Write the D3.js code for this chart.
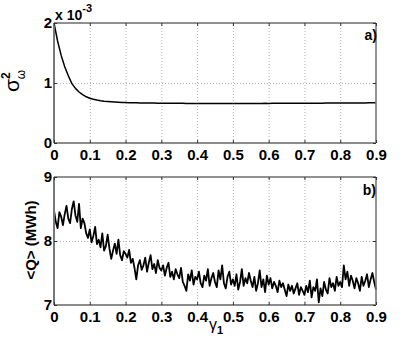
<!DOCTYPE html>
<html>
<head>
<meta charset="utf-8">
<script src="https://cdn.jsdelivr.net/npm/d3@7"></script>
<style>
  html, body { margin: 0; padding: 0; background: #fff; }
  svg { display: block; font-family: "Liberation Sans", Arial, sans-serif; font-weight: bold; }
  .tick text { font-size: 15px; font-weight: bold; fill: #000; }
  .tick line { stroke: #333; }
  .grid .tick line { stroke: #b0b0b0; stroke-dasharray: 1,2; }
  .grid .domain { display: none; }
  .noline .domain { display: none; }
  .series { fill: none; stroke: #000; stroke-linejoin: round; }
</style>
</head>
<body>
<div id="chart"></div>
<script>
// Zwei Panels: a) Varianz sigma^2_omega, b) mittlere Energie <Q> gegen gamma_1

const X_TICKS = [0, 0.1, 0.2, 0.3, 0.4, 0.5, 0.6, 0.7, 0.8, 0.9];
const A_TICKS = [0, 1, 2];
const B_TICKS = [7, 8, 9];

// Panel a): Werte in Einheiten von 1e-3, Schritt 0.01
const A_STEP = 0.01;
const A_VALUES = [
  2.00, 1.70, 1.46, 1.27, 1.12, 0.99, 0.91, 0.85, 0.805, 0.77,
  0.745, 0.728, 0.715, 0.705, 0.697, 0.691, 0.686, 0.682, 0.679, 0.676,
  0.674, 0.672, 0.670, 0.669, 0.668, 0.667, 0.666, 0.665, 0.665, 0.664,
  0.663, 0.663, 0.662, 0.662, 0.661, 0.661, 0.661, 0.660, 0.660, 0.660,
  0.660, 0.659, 0.660, 0.659, 0.659, 0.660, 0.659, 0.659, 0.660, 0.659,
  0.659, 0.660, 0.659, 0.660, 0.660, 0.659, 0.660, 0.660, 0.660, 0.661,
  0.660, 0.661, 0.661, 0.661, 0.662, 0.661, 0.662, 0.662, 0.663, 0.662,
  0.663, 0.663, 0.664, 0.663, 0.664, 0.664, 0.665, 0.665, 0.665, 0.666,
  0.666, 0.666, 0.667, 0.667, 0.667, 0.668, 0.668, 0.668, 0.669, 0.669,
  0.669
];

// Panel b): <Q> in MWh, Schritt 0.005
const B_STEP = 0.005;
const B_VALUES = [
  8.48, 8.30, 8.20, 8.45, 8.38, 8.25, 8.42, 8.55, 8.35, 8.28,
  8.50, 8.62, 8.40, 8.30, 8.58, 8.20, 8.35, 8.28, 8.12, 8.05,
  8.18, 7.98, 8.08, 8.22, 7.95, 8.02, 7.90, 8.12, 7.85, 7.92,
  8.10, 7.88, 7.72, 7.85, 7.96, 7.80, 8.02, 7.78, 7.70, 7.84,
  7.80, 7.74, 7.86, 7.66, 7.72, 7.58, 7.40, 7.62, 7.70, 7.55,
  7.62, 7.74, 7.52, 7.66, 7.78, 7.56, 7.64, 7.50, 7.70, 7.58,
  7.54, 7.62, 7.46, 7.58, 7.66, 7.44, 7.52, 7.40, 7.56, 7.48,
  7.42, 7.58, 7.36, 7.30, 7.22, 7.48, 7.38, 7.54, 7.32, 7.44,
  7.40, 7.52, 7.34, 7.28, 7.46, 7.38, 7.56, 7.30, 7.42, 7.50,
  7.36, 7.28, 7.54, 7.40, 7.62, 7.34, 7.26, 7.44, 7.52, 7.32,
  7.40, 7.30, 7.48, 7.24, 7.36, 7.56, 7.30, 7.42, 7.34, 7.50,
  7.38, 7.28, 7.44, 7.22, 7.34, 7.54, 7.28, 7.40, 7.20, 7.46,
  7.32, 7.42, 7.26, 7.36, 7.30, 7.20, 7.38, 7.28, 7.34, 7.24,
  7.14, 7.32, 7.22, 7.30, 7.18, 7.26, 7.34, 7.16, 7.28, 7.22,
  7.16, 7.30, 7.20, 7.38, 7.12, 7.28, 7.22, 7.40, 7.04, 7.26,
  7.14, 7.36, 7.24, 7.18, 7.42, 7.28, 7.34, 7.22, 7.44, 7.30,
  7.36, 7.28, 7.62, 7.40, 7.52, 7.30, 7.46, 7.38, 7.26, 7.42,
  7.34, 7.22, 7.44, 7.30, 7.38, 7.48, 7.28, 7.40, 7.50, 7.36,
  7.24
];

const W = 415, H = 343;
const LEFT = 54, RIGHT = 376;
const panelA = { top: 23, bottom: 143 };
const panelB = { top: 177, bottom: 305 };

const svg = d3.select("#chart").append("svg")
  .attr("width", W)
  .attr("height", H)
  .attr("viewBox", `0 0 ${W} ${H}`);

const x = d3.scaleLinear().domain([0, 0.9]).range([LEFT, RIGHT]);

function drawPanel(p, yDomain, yTicks, values, step, lineW) {
  const y = d3.scaleLinear().domain(yDomain).range([p.bottom, p.top]);
  const innerH = p.bottom - p.top;
  const innerW = RIGHT - LEFT;

  // Gitter
  svg.append("g").attr("class", "grid")
    .attr("transform", `translate(0,${p.bottom})`)
    .call(d3.axisBottom(x).tickValues(X_TICKS.slice(1, -1)).tickSize(-innerH).tickFormat(""));
  svg.append("g").attr("class", "grid")
    .attr("transform", `translate(${LEFT},0)`)
    .call(d3.axisLeft(y).tickValues(yTicks.slice(1, -1)).tickSize(-innerW).tickFormat(""));

  // Kurve
  const line = d3.line()
    .x((_, i) => x(i * step))
    .y(d => y(d));
  svg.append("path")
    .datum(values)
    .attr("class", "series")
    .attr("stroke-width", lineW)
    .attr("d", line);

  // Rahmen
  svg.append("line").attr("x1", LEFT).attr("x2", RIGHT).attr("y1", p.top).attr("y2", p.top)
    .attr("stroke", "#222").attr("stroke-width", 1);
  svg.append("line").attr("x1", LEFT).attr("x2", RIGHT).attr("y1", p.bottom).attr("y2", p.bottom)
    .attr("stroke", "#666").attr("stroke-width", 1.6);
  svg.append("line").attr("x1", LEFT).attr("x2", LEFT).attr("y1", p.top).attr("y2", p.bottom)
    .attr("stroke", "#777").attr("stroke-width", 2);
  svg.append("line").attr("x1", RIGHT).attr("x2", RIGHT).attr("y1", p.top).attr("y2", p.bottom)
    .attr("stroke", "#777").attr("stroke-width", 1.6);

  // Achsen (Ticks nach innen)
  svg.append("g").attr("class", "noline")
    .attr("transform", `translate(0,${p.bottom})`)
    .call(d3.axisBottom(x).tickValues(X_TICKS).tickSize(-3).tickPadding(6).tickFormat(d => d === 0 ? "0" : d3.format(".1f")(d)));
  svg.append("g").attr("class", "noline")
    .attr("transform", `translate(0,${p.top})`)
    .call(d3.axisTop(x).tickValues(X_TICKS).tickSize(-3).tickFormat(""));
  svg.append("g").attr("class", "noline")
    .attr("transform", `translate(${LEFT},0)`)
    .call(d3.axisLeft(y).tickValues(yTicks).tickSize(-3).tickPadding(2).tickFormat(d3.format("d")));
  svg.append("g").attr("class", "noline")
    .attr("transform", `translate(${RIGHT},0)`)
    .call(d3.axisRight(y).tickValues(yTicks).tickSize(-3).tickFormat(""));

  return y;
}

drawPanel(panelA, [0, 2], A_TICKS, A_VALUES, A_STEP, 1.5);
drawPanel(panelB, [7, 9], B_TICKS, B_VALUES, B_STEP, 1.8);

// Exponent-Faktor
const expo = svg.append("text").attr("x", 55).attr("y", 20).attr("font-size", 14);
expo.append("tspan").text("x 10");
expo.append("tspan").attr("dy", -8).attr("font-size", 11).text("-3");

// Panel-Labels
svg.append("text").attr("x", 377).attr("y", 40).attr("text-anchor", "end").attr("font-size", 14).text("a)");
svg.append("text").attr("x", 376).attr("y", 195).attr("text-anchor", "end").attr("font-size", 14).text("b)");

// Y-Labels
const ya = svg.append("text")
  .attr("transform", "translate(19,92) rotate(-90)")
  .attr("font-size", 21).attr("font-weight", "normal");
ya.append("tspan").text("\u03c3");
ya.append("tspan").attr("dy", -9).attr("dx", 0).attr("font-size", 12).attr("font-weight", "bold").text("2");
ya.append("tspan").attr("dy", 15).attr("dx", -7).attr("font-size", 12).attr("font-weight", "normal").text("\u03c9");

svg.append("text")
  .attr("transform", "translate(36,240) rotate(-90)")
  .attr("text-anchor", "middle")
  .attr("font-size", 15)
  .text("<Q> (MWh)");

// X-Label
const xl = svg.append("text").attr("x", 209).attr("y", 330).attr("font-size", 16).attr("font-weight", "normal");
xl.append("tspan").text("\u03b3");
xl.append("tspan").attr("dy", 4).attr("font-size", 11).attr("font-weight", "bold").text("1");
</script>
</body>
</html>
